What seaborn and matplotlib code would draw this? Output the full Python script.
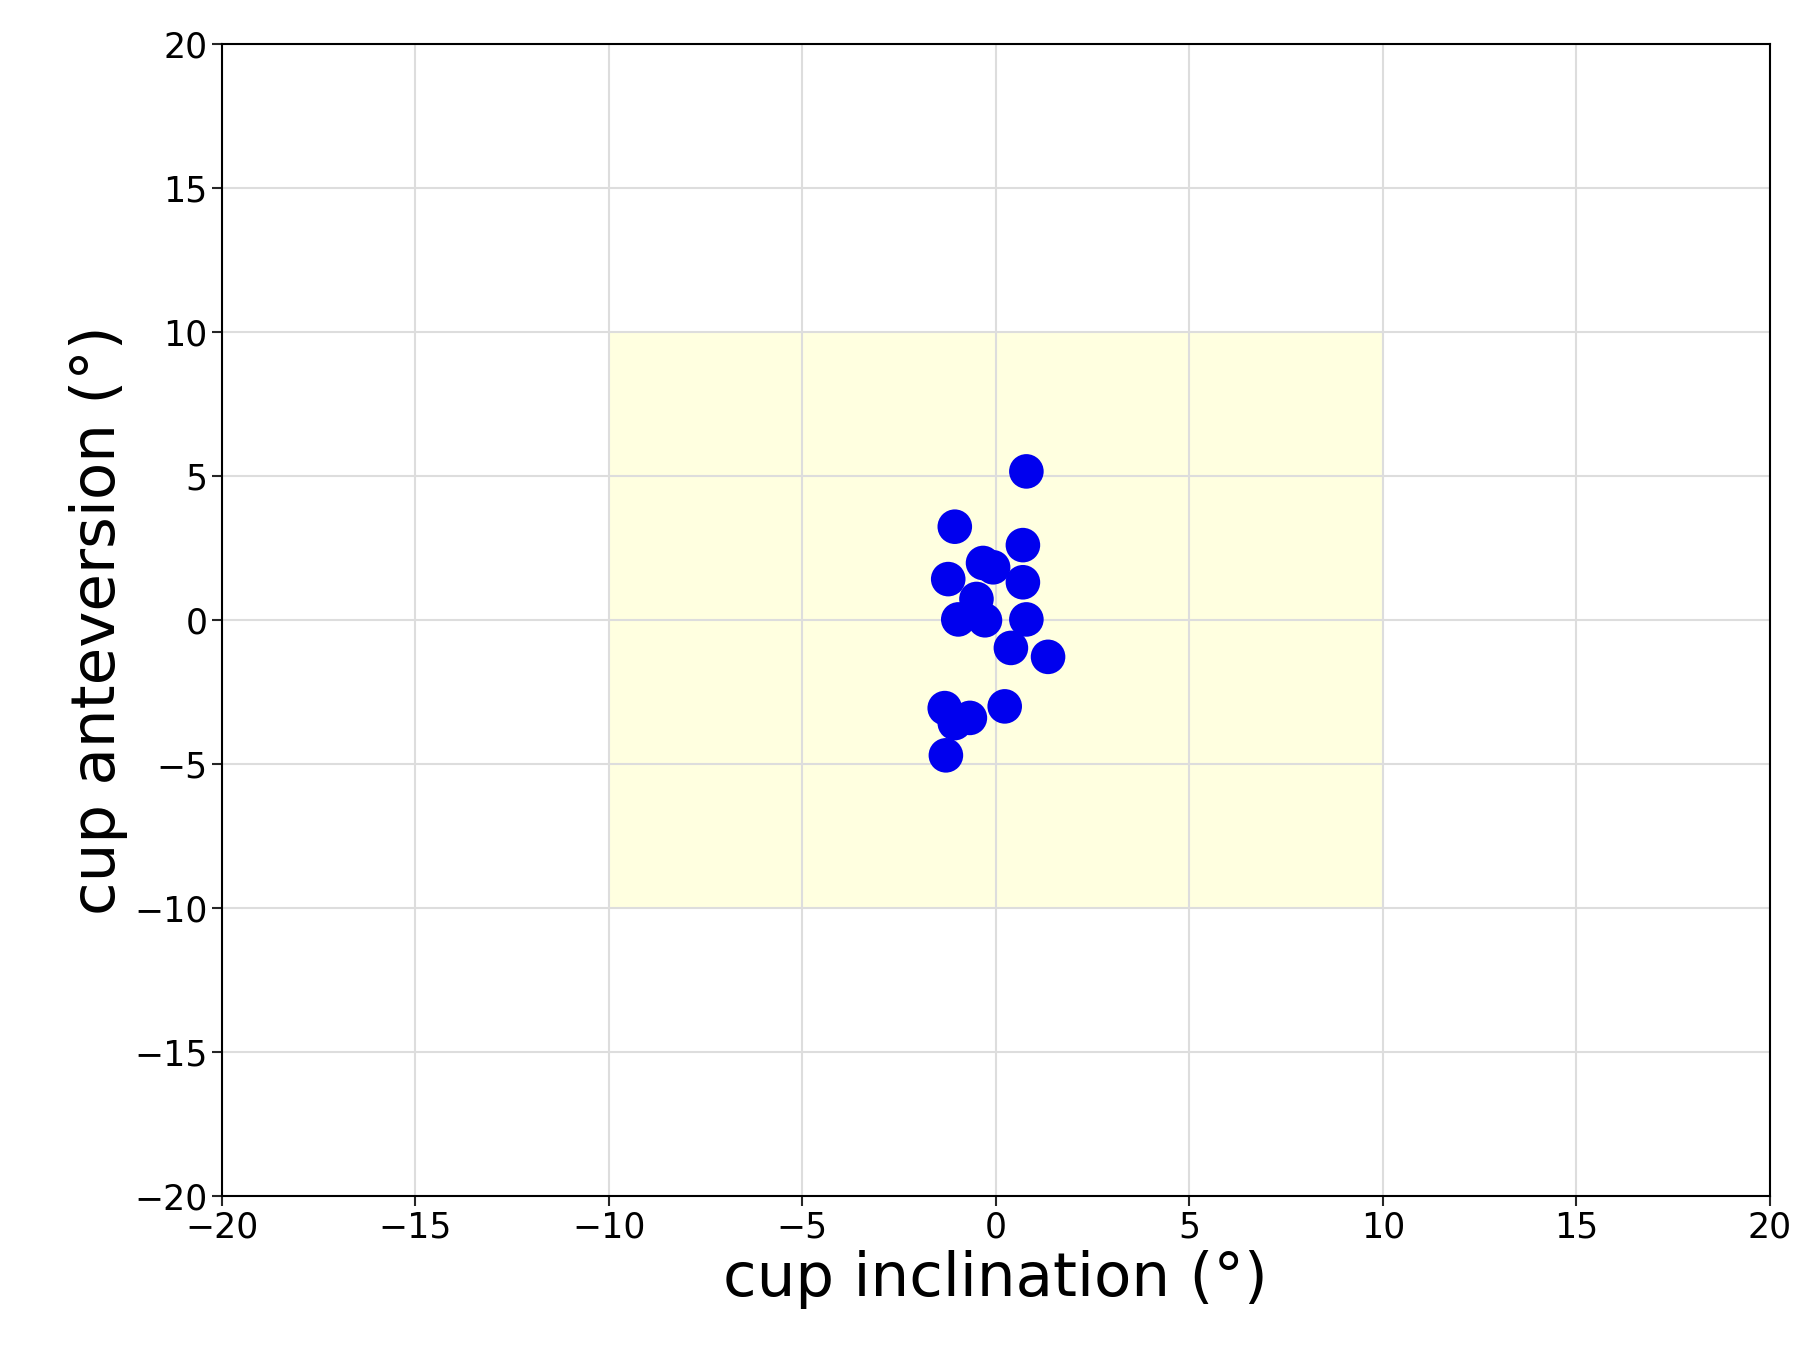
import matplotlib
matplotlib.use("Agg")
import matplotlib.pyplot as plt
import seaborn as sns
import pandas as pd

inclination = [0.79, -1.06, 0.70, -0.33, -0.07, -1.23, 0.70, -0.50, -0.97, -0.28,
               0.79, 0.39, 1.35, -1.32, -0.67, -1.06, 0.23, -1.29]
anteversion = [5.15, 3.23, 2.59, 1.97, 1.82, 1.41, 1.30, 0.72, 0.01, -0.02,
               0.01, -0.98, -1.29, -3.07, -3.41, -3.59, -3.01, -4.71]
ticks = [-20, -15, -10, -5, 0, 5, 10, 15, 20]

df = pd.DataFrame({"x": inclination, "y": anteversion})
sns.set_style("white")
plt.rcParams['font.family'] = ['DejaVu Sans']
fig = plt.figure(figsize=(18.04, 13.68), dpi=100)
ax = fig.add_axes([0.123, 0.126, 0.858, 0.842])
ax.add_patch(plt.Rectangle((-10, -10), 20, 20, color="#ffffcc", alpha=0.6, zorder=0, lw=0))
sns.scatterplot(data=df, x="x", y="y", ax=ax, color="#0000ee", s=620, edgecolor="none", zorder=3)
ax.set_xlim(-20, 20); ax.set_ylim(-20, 20)
ax.set_xticks(ticks); ax.set_yticks(ticks)
ax.set_xticklabels([f"{t}".replace("-", "\u2212") for t in ticks])
ax.set_yticklabels([f"{t}".replace("-", "\u2212") for t in ticks])
ax.grid(True, color="#dddddd", lw=1.5, zorder=1)
ax.set_axisbelow(True)
for s in ax.spines.values():
    s.set_color("black"); s.set_linewidth(1.5)
ax.tick_params(labelsize=25, length=7, width=1.5, bottom=True, left=True, labelcolor="black")
ax.set_xlabel("cup inclination (°)", fontsize=44, color="black", labelpad=4)
ax.set_ylabel("cup anteversion (°)", fontsize=44, color="black", labelpad=4)
fig.savefig("out.png", dpi=100)
